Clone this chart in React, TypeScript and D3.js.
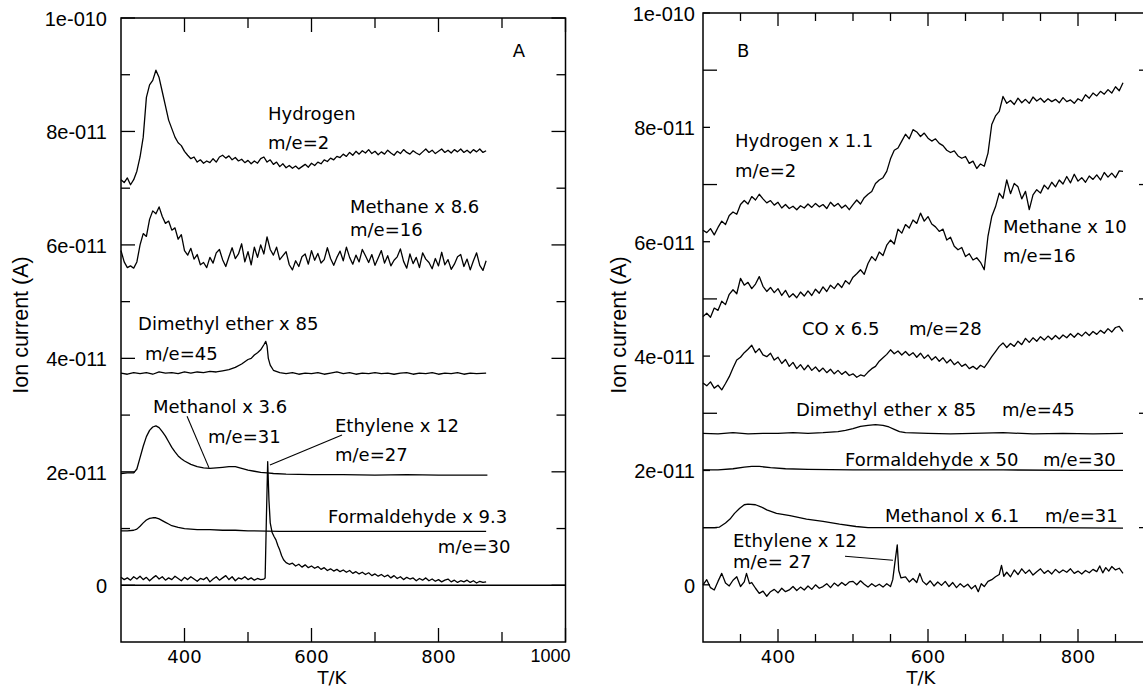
import React from "react";
import * as d3 from "d3";

const W = 1143;
const H = 687;

// ---------------- Panel A data (ion current in units of 1e-12 A) ----------------
const tempA = d3.range(300, 876, 5);

const hydrogenA = [
  71.5, 71, 71.8, 70.6, 71.5, 73, 75.5, 79, 86, 88.2,
  89, 90.8, 89.5, 87, 84.5, 82, 80.5, 79, 78, 77.5,
  76.5, 75.8, 75.2, 75.5, 74.6, 75, 74.4, 74.8, 74.5, 75.2,
  74.6, 75.5, 75.8, 75.3, 75.7, 75, 75.4, 74.8, 75.1, 74.5,
  74.9, 74.3, 74.8, 74.4, 75.2, 75.5, 74.6, 75, 74.2, 74.6,
  73.8, 74.3, 73.6, 74, 73.5, 73.9, 73.4, 73.8, 74.2, 73.7,
  74.4, 74, 74.6, 74.3, 75, 74.7, 75.3, 75, 75.6, 75.4,
  76, 75.6, 76.3, 75.8, 76.5, 76, 76.6, 76.2, 76.8, 76.1,
  76.5, 75.9, 76.4, 76, 76.7, 76.2, 75.8, 76.5, 76.1, 76.8,
  76.3, 76, 76.6, 76.2, 75.9, 76.4, 76.9, 76.3, 76.7, 76.1,
  76.5, 76.9, 76.3, 76.7, 76.2, 76.8, 76.4, 76.9, 76.3, 76.7,
  76.2, 76.8, 76.4, 76.9, 76.3, 76.6,
];

const methaneA = [
  59, 57, 56, 56.3, 55.9, 57, 60, 62, 61.5, 64.5,
  66, 65.5, 66.7, 65, 63.8, 64.2, 62.6, 63, 61, 61.8,
  59, 58.2, 59.4, 57.5, 58.3, 56.5, 56.9, 56, 57.8, 56.8,
  58.6, 59.2, 57.4, 56.2, 57.9, 59.5, 57.6, 58.4, 60.2, 57,
  58.8, 56.5, 59.6, 57.8, 60, 58.4, 61.4, 59.2, 58.2, 59.6,
  57.4, 58.1, 58.8, 56.5, 55.6, 57.2, 56.2, 57.9, 58.4, 56.6,
  59, 57.3, 58.5, 56.8, 57.4, 59.5, 57.6, 56.4, 57.8, 58.9,
  57.2, 59.6, 57.8, 56.6, 58.2, 57, 59.2, 58.1, 56.9, 58.3,
  56.4, 57.7, 59, 56.8, 58.1, 56.3, 57.3, 57.9, 59.3, 57.1,
  55.9, 58.4, 56.7, 57.8, 56, 58.6, 57.5, 56.9, 55.8, 57.6,
  56.3, 58.7, 56.5, 57.4, 55.7, 56.6, 57.9, 58.3, 56.2, 57.5,
  55.6, 57.2, 58.6, 56.4, 55.5, 57.2,
];

const dimethylEtherA: [number, number][] = [
  [300, 37.4], [310, 37.2], [320, 37.5], [330, 37.3], [340, 37.5], [350, 37.2],
  [360, 37.6], [370, 37.4], [380, 37.5], [390, 37.3], [400, 37.6], [410, 37.4],
  [420, 37.6], [430, 37.5], [440, 37.7], [450, 37.6], [460, 37.8], [470, 38.0],
  [480, 38.4], [490, 39.0], [500, 39.8], [505, 40.0], [510, 40.6], [515, 41.0],
  [520, 41.5], [525, 42.4], [528, 43.0], [530, 42.2], [532, 40.0], [535, 38.8],
  [540, 37.9], [550, 37.5], [560, 37.3], [570, 37.5], [580, 37.2], [590, 37.4],
  [600, 37.3], [610, 37.5], [620, 37.2], [630, 37.4], [640, 37.6], [650, 37.3],
  [660, 37.5], [670, 37.2], [680, 37.4], [690, 37.3], [700, 37.5], [710, 37.3],
  [720, 37.4], [730, 37.2], [740, 37.4], [750, 37.5], [760, 37.2], [770, 37.4],
  [780, 37.3], [790, 37.5], [800, 37.2], [810, 37.4], [820, 37.3], [830, 37.5],
  [840, 37.2], [850, 37.4], [860, 37.3], [875, 37.4],
];

const methanolA: [number, number][] = [
  [300, 19.7], [310, 19.8], [320, 19.8], [325, 20.5], [330, 22.5], [335, 24.5],
  [340, 26.2], [345, 27.3], [350, 27.9], [355, 28.1], [360, 27.8], [365, 27.1],
  [370, 26.3], [375, 25.3], [380, 24.3], [385, 23.5], [390, 22.8], [395, 22.3],
  [400, 21.9], [410, 21.3], [420, 20.9], [430, 20.7], [440, 20.6], [450, 20.7],
  [460, 20.8], [470, 20.9], [480, 20.9], [490, 20.6], [500, 20.3], [510, 20.1],
  [520, 19.9], [530, 19.8], [540, 19.7], [560, 19.6], [600, 19.5], [650, 19.5],
  [700, 19.4], [750, 19.5], [800, 19.4], [850, 19.4], [877, 19.4],
];

const formaldehydeA: [number, number][] = [
  [300, 9.6], [310, 9.6], [320, 9.7], [325, 9.9], [330, 10.4], [335, 11.0],
  [340, 11.5], [345, 11.8], [350, 11.9], [355, 11.9], [360, 11.7], [365, 11.4],
  [370, 11.1], [375, 10.8], [380, 10.5], [390, 10.2], [400, 10.0], [420, 9.8],
  [440, 9.8], [460, 9.7], [480, 9.7], [500, 9.6], [550, 9.5], [600, 9.5],
  [700, 9.5], [800, 9.5], [875, 9.5],
];

const ethyleneA: [number, number][] = [
  [300, 1.4], [305, 1.0], [310, 1.3], [315, 0.9], [320, 1.5], [325, 1.1], [330, 1.6],
  [335, 1.0], [340, 1.4], [345, 0.8], [350, 1.3], [355, 1.7], [360, 1.1], [365, 1.5],
  [370, 0.9], [375, 1.3], [380, 1.0], [385, 1.6], [390, 1.2], [395, 0.8], [400, 1.4],
  [405, 1.0], [410, 1.5], [415, 1.1], [420, 0.7], [425, 1.2], [430, 1.0], [435, 1.4],
  [440, 0.6], [445, 1.1], [450, 1.5], [455, 0.9], [460, 1.3], [465, 1.7], [470, 1.0],
  [475, 1.5], [480, 0.8], [485, 1.3], [490, 1.1], [495, 1.5], [500, 1.0], [505, 1.3],
  [510, 0.9], [515, 1.2], [520, 1.0], [525, 1.1], [527, 1.3], [529, 12], [531, 21.8],
  [533, 15], [535, 11], [538, 9.3], [541, 8.6], [544, 8.0], [547, 7.0], [550, 6.2],
  [553, 5.2], [556, 4.5], [560, 4.0], [565, 3.7], [570, 3.9], [575, 3.4], [580, 3.7],
  [585, 3.2], [590, 3.6], [595, 3.1], [600, 3.4], [605, 3.0], [610, 3.3], [615, 2.8],
  [620, 3.1], [625, 2.6], [630, 2.9], [635, 2.5], [640, 2.8], [645, 2.4], [650, 2.7],
  [655, 2.3], [660, 2.6], [665, 2.1], [670, 2.4], [675, 2.0], [680, 2.3], [685, 1.9],
  [690, 2.2], [695, 1.7], [700, 2.0], [705, 1.6], [710, 1.9], [715, 1.5], [720, 1.8],
  [725, 1.3], [730, 1.7], [735, 1.2], [740, 1.5], [745, 1.0], [750, 1.4], [755, 1.1],
  [760, 1.3], [765, 0.8], [770, 1.2], [775, 0.9], [780, 1.3], [785, 0.8], [790, 1.1],
  [795, 0.7], [800, 1.0], [805, 0.6], [810, 0.9], [815, 1.1], [820, 0.6], [825, 0.9],
  [830, 0.5], [835, 0.8], [840, 0.6], [845, 0.9], [850, 0.5], [855, 0.8], [860, 0.4],
  [865, 0.7], [870, 0.5], [875, 0.6],
];

// ---------------- Panel B data ----------------
const tempB = d3.range(300, 861, 5);

const hydrogenB = [
  62, 61.6, 62.3, 61.2, 62.5, 63.6, 63, 64.6, 65.2, 64.8,
  66.5, 67.2, 66.6, 67.9, 67.3, 68.3, 67.5, 66.8, 67.2, 66.4,
  66.9, 65.9, 66.5, 65.8, 66.2, 65.6, 66.3, 65.9, 66.6, 66,
  66.7, 66.1, 66.5, 65.8, 66.9, 66.2, 66.7, 65.9, 66.4, 65.6,
  66.5, 67.3, 66.6, 67.7, 68.3, 68.8, 70.2, 70.8, 71.2, 72.3,
  74.5, 76, 76.4, 77.6, 78.8, 78, 79.6, 79.2, 78.4, 79,
  78.1, 77.6, 78, 77.2, 76.8, 76, 75.6, 75.9, 75, 74.6,
  74.9, 73.7, 74.1, 72.8, 73.6, 73.2, 75.5, 80.5, 82, 82.8,
  85.4, 84.2, 84.7, 84, 85.1, 84.3, 84.9, 84.2, 85.3, 84.6,
  85.1, 84.4, 85, 84.5, 84.9, 84.3, 85.2, 84.5, 84.8, 84.2,
  85, 84.6, 85.7, 85.1, 86, 85.5, 86.3, 85.8, 86.6, 86,
  87.1, 86.4, 87.8,
];

const methaneB = [
  46.9, 47.5, 46.8, 48.4, 48, 49.6, 49, 50.8, 51.6, 50.9,
  53.6, 52.4, 52.9, 51.8, 52.6, 53.9, 52.2, 51.3, 52, 51.1,
  51.8, 50.6, 51.5, 50.3, 50.9, 50.2, 51.2, 50.5, 51.4, 50.6,
  51.7, 51, 52.1, 51.3, 52.4, 51.8, 52.7, 52, 53.2, 52.6,
  53.8, 54.4, 55.1, 54.3, 56.2, 57.4, 56.7, 58.2, 57.6, 59.4,
  60.3, 59.6, 62.2, 61.5, 63, 62.4, 63.8, 63.2, 65, 63.6,
  64.4, 63.1, 62.6, 61.8, 62.2, 60.3, 60.8, 59.2, 58.6, 59,
  57.4, 57.9, 56.8, 57.2, 56.4, 55.1, 61, 64.4, 66.1, 68.5,
  67.6, 70.8, 68.4, 70.2, 69.6, 67.5, 68.8, 65.6, 68.2, 69.1,
  68.5, 69.9, 69.2, 70.4, 69.6, 70.8, 70.1, 71.4, 70.3, 71.8,
  70.6, 71.2, 70.4, 71.5, 70.9, 71.7, 70.8, 72.1, 71.3, 72,
  71.2, 72.4, 72.3,
];

const carbonMonoxideB = [
  35.3, 34.8, 35.5, 34.4, 34.9, 34.1, 35.2, 36.4, 37.9, 39.3,
  39.8, 40.6, 41.2, 41.9, 40.6, 41.3, 40.2, 39.9, 40.5, 39.3,
  39.8, 38.7, 39.4, 38.2, 38.9, 37.8, 38.5, 37.6, 38.4, 37.5,
  38.1, 37.3, 37.9, 37.1, 37.7, 36.9, 37.5, 36.8, 37.3, 36.6,
  36.9, 36.3, 36.7, 36.5, 37.2, 37.8, 38.2, 39.1, 39.7, 40.3,
  41.1, 40.4, 40.9, 40.2, 40.8, 40.1, 40.6, 39.8, 40.5, 39.6,
  40.2, 39.3, 39.9, 39.1, 39.7, 38.8, 39.4, 38.5, 39, 38.2,
  38.6, 37.8, 38.2, 37.7, 38.4, 38, 38.9, 39.9, 40.8, 41.7,
  42.3, 41.5, 42.2, 41.7, 42.6, 42, 43.1, 42.4, 43.2, 42.6,
  43.4, 42.8, 43.5, 42.9, 43.6, 43, 43.7, 43.2, 43.9, 43.3,
  44, 43.5, 44.2, 43.6, 44.3, 43.8, 44.5, 44, 44.8, 44.2,
  45, 45.2, 44.3,
];

const dimethylEtherB: [number, number][] = [
  [300, 26.5], [320, 26.4], [340, 26.6], [360, 26.4], [380, 26.5], [400, 26.5],
  [420, 26.6], [440, 26.5], [460, 26.6], [470, 26.7], [480, 26.8], [490, 27.0],
  [500, 27.3], [510, 27.7], [520, 27.9], [530, 28.0], [540, 27.9], [548, 27.6],
  [555, 27.2], [562, 26.8], [570, 26.6], [600, 26.5], [630, 26.4], [660, 26.5],
  [700, 26.6], [740, 26.4], [780, 26.5], [820, 26.4], [860, 26.5],
];

const formaldehydeB: [number, number][] = [
  [300, 20.1], [320, 20.1], [340, 20.3], [355, 20.6], [365, 20.7], [375, 20.7],
  [390, 20.5], [410, 20.3], [440, 20.2], [500, 20.1], [600, 20.1], [700, 20.1],
  [800, 20.0], [860, 20.0],
];

const methanolB: [number, number][] = [
  [300, 10.0], [315, 10.0], [322, 10.1], [330, 10.8], [336, 11.5], [342, 12.5],
  [349, 13.4], [355, 14.0], [360, 14.1], [370, 14.0], [378, 13.6], [385, 13.1],
  [398, 12.5], [416, 12.1], [438, 11.5], [460, 11.1], [482, 10.6], [504, 10.2],
  [520, 10.0], [560, 10.0], [650, 10.0], [750, 10.0], [860, 9.9],
];

const ethyleneB: [number, number][] = [
  [300, 0], [305, 0.9], [310, -0.5], [315, -0.9], [320, 0.6], [325, 2], [330, 0.3],
  [335, -0.2], [340, 0.8], [345, 1.4], [350, -0.3], [355, 0.5], [358, 2], [362, 0.2],
  [365, 0.4], [370, -0.6], [375, -1.5], [380, -1.1], [385, -2], [390, -1.2], [395, -0.8],
  [400, -1.4], [405, -0.6], [410, -1.2], [415, -0.9], [420, -0.3], [425, -1], [430, -0.4],
  [435, -0.9], [440, -0.2], [445, -0.8], [450, 0], [455, -0.6], [460, -0.3], [465, 0.2],
  [470, -0.5], [475, 0.3], [480, -0.2], [485, 0.4], [490, -0.1], [495, 0.5], [500, 0.6],
  [505, 0], [510, 0.7], [515, 0.1], [520, -0.4], [525, 0.2], [530, -0.3], [535, 0.1],
  [540, -0.4], [545, 0.2], [550, -0.3], [553, 0.9], [556, 4], [559, 7], [561, 2.5],
  [564, 1.2], [570, 1.4], [575, 0.5], [580, 1.1], [585, 0.4], [589, 2], [593, 0.6],
  [598, 0], [603, 0.7], [608, -0.2], [613, 0.5], [618, -0.1], [623, 0.6], [628, -0.3],
  [633, 0.4], [638, -0.5], [643, 0.2], [648, -0.4], [653, 0.1], [658, -0.7], [663, -0.1],
  [667, -1.2], [671, 0.2], [675, -0.3], [680, 0.6], [685, 0.9], [690, 1.4], [695, 1.8],
  [698, 3.4], [701, 1.5], [705, 2.2], [710, 1.4], [715, 2.6], [720, 1.8], [725, 2.8],
  [730, 2], [735, 2.6], [740, 1.7], [745, 2.3], [750, 2.8], [755, 2], [760, 2.5],
  [765, 1.9], [770, 2.7], [775, 2.1], [780, 2.6], [785, 2.2], [790, 2.8], [795, 2],
  [800, 2.4], [805, 1.9], [810, 2.5], [815, 2.1], [820, 2.7], [825, 2.3], [829, 3.3],
  [833, 2.1], [837, 3], [841, 2.4], [845, 3.2], [850, 2.6], [855, 2.9], [860, 2.0],
];

// ---------------- Axis ticks ----------------
const yMajorValues = [0, 20, 40, 60, 80, 100];
const yMajorLabels = ["0", "2e-011", "4e-011", "6e-011", "8e-011", "1e-010"];
const yMinorValues = [10, 30, 50, 70, 90];

const xMajorA = [400, 600, 800, 1000];
const xMajorLabelsA = ["400", "600", "800", "1000"];
const xMinorA = [500, 700, 900];

const xMajorB = [400, 600, 800];
const xMajorLabelsB = ["400", "600", "800"];
const xMinorB = [350, 450, 500, 550, 650, 700, 750, 850];

// ---------------- Annotations (data coordinates) ----------------
type Note = { text: string; t: number; v: number };
const notesA: Note[] = [
  { text: "A", t: 917, v: 93.1 },
  { text: "Hydrogen", t: 531.5, v: 82.0 },
  { text: "m/e=2", t: 531.5, v: 76.9 },
  { text: "Methane x 8.6", t: 660.6, v: 65.6 },
  { text: "m/e=16", t: 660.6, v: 61.6 },
  { text: "Dimethyl ether x 85", t: 326.8, v: 45.0 },
  { text: "m/e=45", t: 337.8, v: 39.7 },
  { text: "Methanol x 3.6", t: 350.4, v: 30.4 },
  { text: "m/e=31", t: 437, v: 25.1 },
  { text: "Ethylene x 12", t: 637, v: 27.0 },
  { text: "m/e=27", t: 637, v: 21.9 },
  { text: "Formaldehyde x 9.3", t: 626, v: 11.0 },
  { text: "m/e=30", t: 799, v: 5.7 },
];
const leadersA: [number, number, number, number][] = [
  [404, 29.8, 438.6, 20.7],
  [648, 26.5, 534.6, 21.2],
];

const notesB: Note[] = [
  { text: "B", t: 345.3, v: 92.3 },
  { text: "Hydrogen x 1.1", t: 342.7, v: 76.6 },
  { text: "m/e=2", t: 342.7, v: 71.3 },
  { text: "Methane x 10", t: 700, v: 61.5 },
  { text: "m/e=16", t: 700, v: 56.4 },
  { text: "CO x 6.5", t: 432, v: 43.7 },
  { text: "m/e=28", t: 574.7, v: 43.7 },
  { text: "Dimethyl ether x 85", t: 424, v: 29.5 },
  { text: "m/e=45", t: 698.7, v: 29.5 },
  { text: "Formaldehyde x 50", t: 489.3, v: 20.8 },
  { text: "m/e=30", t: 753.3, v: 20.8 },
  { text: "Methanol x 6.1", t: 542.7, v: 11.0 },
  { text: "m/e=31", t: 756, v: 11.0 },
  { text: "Ethylene x 12", t: 340, v: 6.6 },
  { text: "m/e= 27", t: 340, v: 2.9 },
];
const leadersB: [number, number, number, number][] = [[489.3, 5.0, 553.3, 4.3]];

const zip = (t: number[], v: number[]): [number, number][] =>
  v.map((val, i) => [t[i], val] as [number, number]);

const annoFont = "'DejaVu Sans', sans-serif";
const tickFont = "'Liberation Sans', Arial, sans-serif";

type PanelProps = {
  xDomain: [number, number];
  xRange: [number, number];
  yRange: [number, number];
  series: [number, number][][];
  notes: Note[];
  leaders: [number, number, number, number][];
  xMajor: number[];
  xMajorLabels: string[];
  xMinor: number[];
  xMajorLen: number;
  xMinorLen: number;
  yMajorLen: number;
  yMinorLen: number;
  yLabelGap: number;
  zeroLine: boolean;
  xTitleX: number;
  yTitleX: number;
};

function Panel(p: PanelProps) {
  const x = d3.scaleLinear().domain(p.xDomain).range(p.xRange);
  const y = d3.scaleLinear().domain([-10, 100]).range(p.yRange);
  const line = d3
    .line<[number, number]>()
    .x((d) => x(d[0]))
    .y((d) => y(d[1]));
  const [x0, x1] = p.xRange;
  const [yb, yt] = p.yRange;
  return (
    <g>
      <rect x={x0} y={yt} width={x1 - x0} height={yb - yt} fill="none" stroke="#000" strokeWidth={1.5} />
      {p.zeroLine && <line x1={x0} x2={x1} y1={y(0)} y2={y(0)} stroke="#000" strokeWidth={1.3} />}
      {p.xMajor.map((t) => (
        <g key={"xm" + t}>
          <line x1={x(t)} x2={x(t)} y1={yb} y2={yb - p.xMajorLen} stroke="#000" strokeWidth={1.3} />
          <line x1={x(t)} x2={x(t)} y1={yt} y2={yt + p.xMajorLen} stroke="#000" strokeWidth={1.3} />
        </g>
      ))}
      {p.xMinor.map((t) => (
        <g key={"xn" + t}>
          <line x1={x(t)} x2={x(t)} y1={yb} y2={yb - p.xMinorLen} stroke="#000" strokeWidth={1.3} />
          <line x1={x(t)} x2={x(t)} y1={yt} y2={yt + p.xMinorLen} stroke="#000" strokeWidth={1.3} />
        </g>
      ))}
      {p.xMajor.map((t, i) =>
        t === 1000 ? (
          <text key={"xl" + t} x={x(t) - 15} y={662} textAnchor="middle" fontFamily={tickFont} fontSize={18}>
            {p.xMajorLabels[i]}
          </text>
        ) : (
          <text key={"xl" + t} x={x(t)} y={663} textAnchor="middle" fontFamily={annoFont} fontSize={18}>
            {p.xMajorLabels[i]}
          </text>
        )
      )}
      {yMajorValues.map((v, i) => (
        <g key={"ym" + v}>
          <line x1={x0} x2={x0 + p.yMajorLen} y1={y(v)} y2={y(v)} stroke="#000" strokeWidth={1.3} />
          <line x1={x1} x2={x1 - p.yMajorLen} y1={y(v)} y2={y(v)} stroke="#000" strokeWidth={1.3} />
          <text x={x0 - p.yLabelGap} y={y(v) + 8} textAnchor="end" fontFamily={tickFont} fontSize={20}>
            {yMajorLabels[i]}
          </text>
        </g>
      ))}
      {yMinorValues.map((v) => (
        <g key={"yn" + v}>
          <line x1={x0} x2={x0 + p.yMinorLen} y1={y(v)} y2={y(v)} stroke="#000" strokeWidth={1.3} />
          <line x1={x1} x2={x1 - p.yMinorLen} y1={y(v)} y2={y(v)} stroke="#000" strokeWidth={1.3} />
        </g>
      ))}
      <text x={p.xTitleX} y={684} textAnchor="middle" fontFamily={annoFont} fontSize={18}>
        T/K
      </text>
      <text
        transform={`translate(${p.yTitleX},325) rotate(-90)`}
        textAnchor="middle"
        fontFamily={tickFont}
        fontSize={21.5}
      >
        Ion current (A)
      </text>
      {p.series.map((s, i) => (
        <path key={"s" + i} d={line(s) || ""} fill="none" stroke="#000" strokeWidth={1.3} strokeLinejoin="round" />
      ))}
      {p.leaders.map((l, i) => (
        <line key={"l" + i} x1={x(l[0])} y1={y(l[1])} x2={x(l[2])} y2={y(l[3])} stroke="#000" strokeWidth={1.1} />
      ))}
      {p.notes.map((n, i) => (
        <text key={"n" + i} x={x(n.t)} y={y(n.v)} fontFamily={annoFont} fontSize={18}>
          {n.text}
        </text>
      ))}
    </g>
  );
}

export default function App() {
  const seriesA = [
    zip(tempA, hydrogenA),
    zip(tempA, methaneA),
    dimethylEtherA,
    methanolA,
    formaldehydeA,
    ethyleneA,
  ];
  const seriesB = [
    zip(tempB, hydrogenB),
    zip(tempB, methaneB),
    zip(tempB, carbonMonoxideB),
    dimethylEtherB,
    formaldehydeB,
    methanolB,
    ethyleneB,
  ];
  return (
    <svg width={W} height={H} style={{ position: "absolute", left: 0, top: 0, background: "#fff" }}>
      <rect x={0} y={0} width={W} height={H} fill="#fff" />
      <Panel
        xDomain={[300, 1000]}
        xRange={[121, 565.5]}
        yRange={[642, 18]}
        series={seriesA}
        notes={notesA}
        leaders={leadersA}
        xMajor={xMajorA}
        xMajorLabels={xMajorLabelsA}
        xMinor={xMinorA}
        xMajorLen={14}
        xMinorLen={10}
        yMajorLen={14}
        yMinorLen={9}
        yLabelGap={14}
        zeroLine={true}
        xTitleX={332}
        yTitleX={28}
      />
      <Panel
        xDomain={[300, 900]}
        xRange={[703, 1153]}
        yRange={[642, 13]}
        series={seriesB}
        notes={notesB}
        leaders={leadersB}
        xMajor={xMajorB}
        xMajorLabels={xMajorLabelsB}
        xMinor={xMinorB}
        xMajorLen={13}
        xMinorLen={8}
        yMajorLen={7}
        yMinorLen={14}
        yLabelGap={8}
        zeroLine={false}
        xTitleX={921}
        yTitleX={626}
      />
    </svg>
  );
}
